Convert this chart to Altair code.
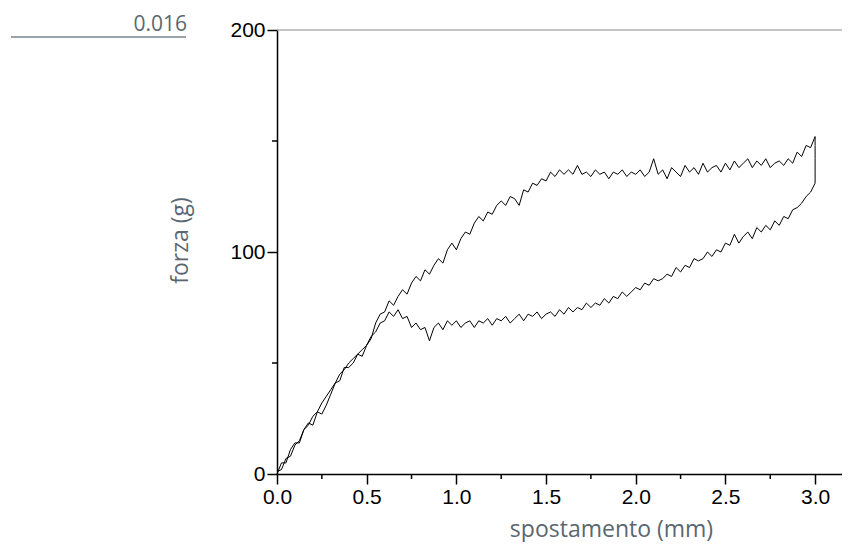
import altair as alt
import pandas as pd

# x grid of the recorded curve (mm)
X = [0.0, 0.025, 0.05, 0.075, 0.1, 0.125, 0.15, 0.175, 0.2, 0.225,
     0.25, 0.275, 0.3, 0.325, 0.35, 0.375, 0.4, 0.425, 0.45, 0.475,
     0.5, 0.525, 0.55, 0.575, 0.6, 0.625, 0.65, 0.675, 0.7, 0.725,
     0.75, 0.775, 0.8, 0.825, 0.85, 0.875, 0.9, 0.925, 0.95, 0.975,
     1.0, 1.025, 1.05, 1.075, 1.1, 1.125, 1.15, 1.175, 1.2, 1.225,
     1.25, 1.275, 1.3, 1.325, 1.35, 1.375, 1.4, 1.425, 1.45, 1.475,
     1.5, 1.525, 1.55, 1.575, 1.6, 1.625, 1.65, 1.675, 1.7, 1.725,
     1.75, 1.775, 1.8, 1.825, 1.85, 1.875, 1.9, 1.925, 1.95, 1.975,
     2.0, 2.025, 2.05, 2.075, 2.1, 2.125, 2.15, 2.175, 2.2, 2.225,
     2.25, 2.275, 2.3, 2.325, 2.35, 2.375, 2.4, 2.425, 2.45, 2.475,
     2.5, 2.525, 2.55, 2.575, 2.6, 2.625, 2.65, 2.675, 2.7, 2.725,
     2.75, 2.775, 2.8, 2.825, 2.85, 2.875, 2.9, 2.925, 2.95, 2.975,
     3.0]

# loading branch (force in g), x ascending
LOAD_Y = [0, 5, 5, 11, 14, 14, 20, 23, 22, 28,
          27, 31, 36, 41, 42, 48, 48, 50, 54, 53,
          58, 61, 68, 72, 73, 78, 76, 80, 83, 81,
          86, 89, 87, 92, 90, 94, 97, 95, 101, 104,
          101, 106, 109, 108, 113, 116, 114, 118, 117, 121,
          123, 121, 125, 124, 121, 128, 127, 131, 130, 133,
          132, 136, 134, 137, 135, 137, 135, 139, 135, 136,
          134, 137, 135, 136, 133, 136, 135, 137, 134, 136,
          135, 137, 134, 136, 142, 135, 137, 133, 138, 136,
          134, 139, 136, 138, 135, 140, 136, 138, 139, 136,
          140, 137, 141, 138, 140, 142, 138, 141, 139, 142,
          138, 140, 141, 139, 142, 140, 145, 143, 148, 147,
          152]

# drop at the turning point (x = 3.0)
DROP_Y = [148, 142, 136]

# unloading branch, x descending from 3.0 to 0
UNLOAD_Y = [131, 127, 125, 122, 120, 119, 115, 116, 112, 114,
            110, 112, 109, 111, 106, 109, 107, 104, 108, 103,
            104, 100, 101, 98, 100, 97, 96, 97, 93, 94,
            91, 93, 89, 90, 88, 87, 88, 85, 86, 83,
            84, 82, 80, 82, 79, 80, 77, 79, 76, 77,
            75, 77, 74, 75, 73, 75, 72, 74, 71, 73,
            72, 70, 73, 71, 72, 69, 72, 70, 68, 71,
            69, 70, 67, 70, 68, 69, 66, 69, 68, 66,
            69, 67, 69, 65, 68, 66, 60, 66, 65, 68,
            66, 71, 70, 74, 71, 73, 69, 68, 64, 62,
            58, 56, 54, 52, 50, 47, 45, 41, 38, 35,
            32, 28, 26, 22, 20, 15, 13, 8, 7, 2,
            1]

X_TICKS = [0.0, 0.5, 1.0, 1.5, 2.0, 2.5, 3.0]
X_MINOR = [0.25, 0.75, 1.25, 1.75, 2.25, 2.75]
Y_TICKS = [0, 100, 200]
Y_MINOR = [50, 150]
NOTE_TEXT = ["0.016"]

xs = X + [3.0] * len(DROP_Y) + X[::-1]
ys = LOAD_Y + DROP_Y + UNLOAD_Y
df = pd.DataFrame({"x": xs, "y": ys, "i": list(range(len(xs)))})

W, H = 565, 444
TITLE_COLOR = "#5b6770"
xscale = alt.Scale(domain=[0, 3.15], nice=False, zero=False)
yscale = alt.Scale(domain=[0, 200], nice=False)

x_axis = alt.Axis(values=X_TICKS, format=".1f", title="spostamento (mm)",
                  titleX=334, titleY=62, titleBaseline="alphabetic",
                  titleAlign="center", labelFlush=False, grid=False)
y_axis = alt.Axis(values=Y_TICKS, format="d", title="forza (g)",
                  titleX=-90, titleY=210, titleAngle=270,
                  titleBaseline="alphabetic", titleAlign="center",
                  labelFlush=False, grid=False)

line = alt.Chart(df).mark_line(color="black", strokeWidth=1).encode(
    x=alt.X("x:Q", scale=xscale, axis=x_axis),
    y=alt.Y("y:Q", scale=yscale, axis=y_axis),
    order="i:Q",
)

top_rule = alt.Chart(pd.DataFrame({"y": [200]})).mark_rule(
    color="#8a8a8a", strokeWidth=1).encode(
    y=alt.Y("y:Q", scale=yscale, axis=y_axis),
    x=alt.value(0), x2=alt.value(W))

minor_x = alt.Chart(pd.DataFrame({"x": X_MINOR})).mark_rule(
    color="black", strokeWidth=1.5).encode(
    x=alt.X("x:Q", scale=xscale, axis=x_axis),
    y=alt.value(H), y2=alt.value(H + 5))

minor_y = alt.Chart(pd.DataFrame({"y": Y_MINOR})).mark_rule(
    color="black", strokeWidth=1.5).encode(
    y=alt.Y("y:Q", scale=yscale, axis=y_axis),
    x=alt.value(0), x2=alt.value(-5))

note_df = pd.DataFrame({"t": NOTE_TEXT})
note_text = alt.Chart(note_df).mark_text(
    align="right", baseline="alphabetic", font="Open Sans", fontSize=21,
    color=TITLE_COLOR).encode(
    text="t:N", x=alt.value(-90), y=alt.value(1))
note_rule = alt.Chart(note_df).mark_rule(
    color="#7a858e", strokeWidth=1.5).encode(
    x=alt.value(-266), x2=alt.value(-91), y=alt.value(7))

chart = alt.layer(top_rule, line, minor_x, minor_y, note_text, note_rule).properties(
    width=W, height=H,
    autosize=alt.AutoSizeParams(type="none"),
    padding={"left": 269, "top": 22, "right": 0, "bottom": 68},
).configure_view(stroke=None).configure_axis(
    grid=False,
    labelFont="Liberation Sans", labelFontSize=21, labelColor="black",
    labelPadding=2,
    tickSize=10, tickWidth=1.5, tickColor="black",
    domainColor="black", domainWidth=1.5,
    titleFont="Open Sans", titleFontSize=23, titleColor=TITLE_COLOR,
    titleFontWeight="normal",
)

chart.save("out.html", embed_options={"renderer": "svg", "actions": False})
